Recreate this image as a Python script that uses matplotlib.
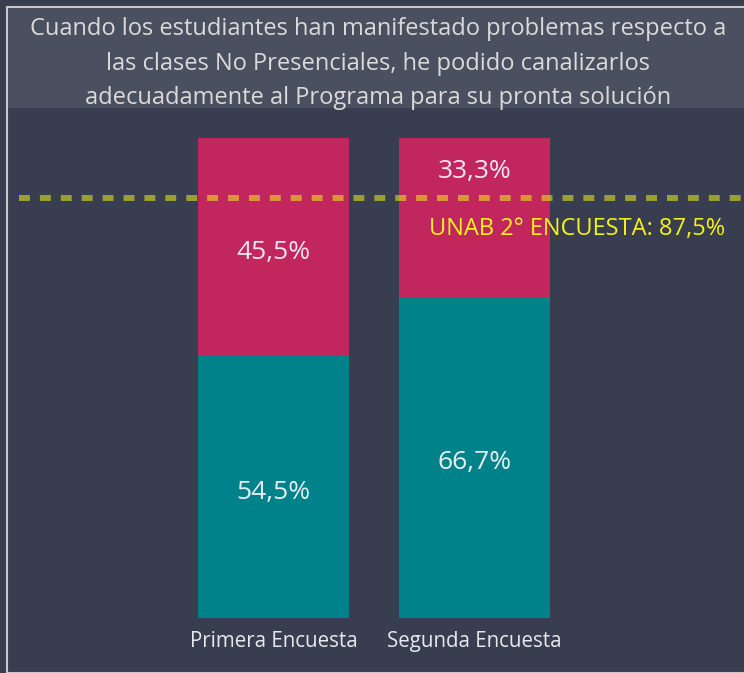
import matplotlib.pyplot as plt
from matplotlib.patches import Rectangle

categories = ["Primera Encuesta", "Segunda Encuesta"]
si_values = [54.5, 66.7]
no_values = [45.5, 33.3]
si_labels = ["54,5%", "66,7%"]
no_labels = ["45,5%", "33,3%"]
no_label_pos = [None, 93.1]  # segunda etiqueta movida arriba
reference_value = 87.5
reference_label = "UNAB 2° ENCUESTA: 87,5%"
title = ("Cuando los estudiantes han manifestado problemas respecto a\n"
         "las clases No Presenciales, he podido canalizarlos\n"
         "adecuadamente al Programa para su pronta solución")

BG = "#393d50"
PANEL = "#4a5060"
TEAL = "#00828a"
CRIMSON = "#c1275c"
FONT = ["Open Sans", "DejaVu Sans"]

plt.rcParams['font.family'] = FONT

W, H = 744, 673
fig = plt.figure(figsize=(W / 100, H / 100), dpi=100, facecolor=BG)

# marco y panel del titulo
fig.patches.append(Rectangle((7 / W, 0), 1, 1 - 7 / H, transform=fig.transFigure,
                             facecolor=BG, edgecolor="#c8c8cc", linewidth=1.5, zorder=-2))
fig.patches.append(Rectangle((8 / W, 1 - 108 / H), 1, 100 / H, transform=fig.transFigure,
                             facecolor=PANEL, edgecolor="none", zorder=-1))
fig.text(378 / W, 1 - 63.5 / H, title, ha="center", va="center", color="#dadada",
         fontsize=17, linespacing=1.6)

# ejes: base de barras en y=618px, 100% en y=138px
bottom = 1 - 618 / H
top = 1 - 138 / H
ax = fig.add_axes([0, bottom, 1, top - bottom])
ax.set_facecolor("none")
unit = 201
ax.set_xlim(-273.5 / unit, (W - 273.5) / unit)
ax.set_ylim(0, 100)
ax.axis("off")

x = list(range(len(categories)))
width = 151 / unit
ax.bar(x, si_values, width=width, color=TEAL, zorder=2)
ax.bar(x, no_values, width=width, bottom=si_values, color=CRIMSON, zorder=2)

for i in x:
    ax.text(i, si_values[i] / 2 - 1, si_labels[i], ha="center", va="center",
            color="#e8eef2", fontsize=19)
    ypos = no_label_pos[i] if no_label_pos[i] else si_values[i] + no_values[i] / 2 - 1
    ax.text(i, ypos, no_labels[i], ha="center", va="center", color="#f0e6ee", fontsize=19)
    ax.text(i, -4.9, categories[i], ha="center", va="center", color="#e6e8ee",
            fontsize=14.8, clip_on=False)

# linea de referencia (amarilla semitransparente)
x0 = (19 - 273.5) / unit
ax.plot([x0, ax.get_xlim()[1]], [reference_value, reference_value], color="#ecf21c",
        alpha=0.55, linewidth=4.3, dashes=(1.83, 1.67), zorder=3, solid_capstyle="butt")
ax.text((725 - 273.5) / unit, reference_value - 6.5, reference_label, ha="right",
        va="center", color="#f2f21e", fontsize=17, zorder=4)

fig.savefig("out.png", dpi=100, facecolor=BG)
